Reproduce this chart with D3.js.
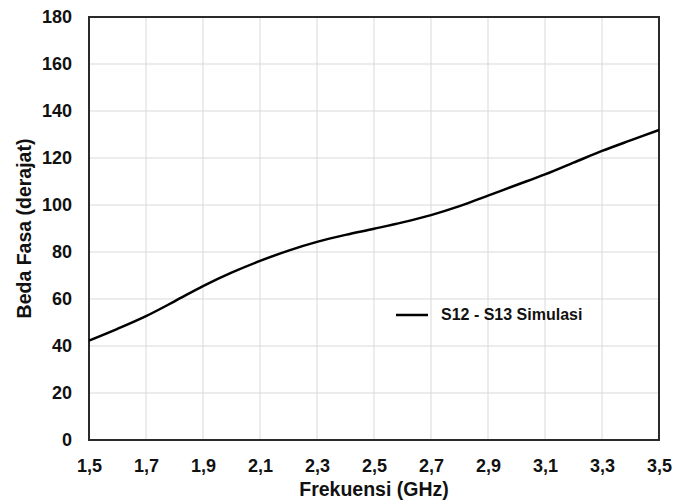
<!DOCTYPE html>
<html><head><meta charset="utf-8">
<script src="https://cdn.jsdelivr.net/npm/d3@7"></script>
<style>body{margin:0;background:#fff}svg{display:block}text{font-family:"Liberation Sans",Arial,sans-serif;font-weight:bold;fill:#111}</style>
</head><body>
<script>
const freqs = [1.5,1.6,1.7,1.8,1.9,2.0,2.1,2.2,2.3,2.4,2.5,2.6,2.7,2.8,2.9,3.0,3.1,3.2,3.3,3.4,3.5];
const phaseDiff = [42.3,47.3,52.7,59.0,65.5,71.2,76.2,80.6,84.3,87.3,89.9,92.6,95.7,99.5,104.0,108.5,113.0,118.0,123.0,127.5,131.9];
const xTicks = [1.5,1.7,1.9,2.1,2.3,2.5,2.7,2.9,3.1,3.3,3.5];
const yTicks = [0,20,40,60,80,100,120,140,160,180];
const seriesName = "S12 - S13 Simulasi";
const xTitle = "Frekuensi (GHz)";
const yTitle = "Beda Fasa (derajat)";

const W=690,H=501, L=89,R=659,T=17,B=440;
const svg=d3.select("body").append("svg").attr("width",W).attr("height",H);
const x=d3.scaleLinear().domain([1.5,3.5]).range([L,R]);
const y=d3.scaleLinear().domain([0,180]).range([B,T]);
const fmt=d=>d3.format(".1f")(d).replace(".",",");

// grid
svg.append("g").selectAll("line").data(xTicks).join("line")
  .attr("x1",d=>x(d)).attr("x2",d=>x(d)).attr("y1",T).attr("y2",B)
  .attr("stroke","#d9d9d9").attr("stroke-width",1);
svg.append("g").selectAll("line").data(yTicks).join("line")
  .attr("y1",d=>y(d)).attr("y2",d=>y(d)).attr("x1",L).attr("x2",R)
  .attr("stroke","#d9d9d9").attr("stroke-width",1);

// axes labels via d3 axes
const gx=svg.append("g").attr("transform",`translate(0,${B})`)
  .call(d3.axisBottom(x).tickValues(xTicks).tickFormat(fmt).tickSize(0).tickPadding(19));
gx.select(".domain").remove();
gx.selectAll("text").attr("font-size",18).attr("fill","#111").style("font-family",'"Liberation Sans",Arial,sans-serif');
const gy=svg.append("g").attr("transform",`translate(${L},0)`)
  .call(d3.axisLeft(y).tickValues(yTicks).tickSize(0).tickPadding(17));
gy.select(".domain").remove();
gy.selectAll("text").attr("font-size",18).attr("fill","#111").style("font-family",'"Liberation Sans",Arial,sans-serif');

// frame
svg.append("rect").attr("x",L).attr("y",T).attr("width",R-L).attr("height",B-T)
  .attr("fill","none").attr("stroke","#2a2a2a").attr("stroke-width",2);

// line
const line=d3.line().x((d,i)=>x(freqs[i])).y(d=>y(d)).curve(d3.curveCatmullRom.alpha(0.5));
svg.append("path").datum(phaseDiff).attr("d",line).attr("fill","none")
  .attr("stroke","#000").attr("stroke-width",2.5);

// legend
svg.append("line").attr("x1",396).attr("x2",428).attr("y1",315).attr("y2",315)
  .attr("stroke","#000").attr("stroke-width",2.5);
svg.append("text").attr("x",441).attr("y",320).attr("font-size",16).text(seriesName);

// titles
svg.append("text").attr("x",(L+R)/2).attr("y",496).attr("text-anchor","middle")
  .attr("font-size",19.5).text(xTitle);
svg.append("text").attr("transform",`translate(31,${(T+B)/2}) rotate(-90)`)
  .attr("text-anchor","middle").attr("font-size",19.5).text(yTitle);
</script>
</body></html>
